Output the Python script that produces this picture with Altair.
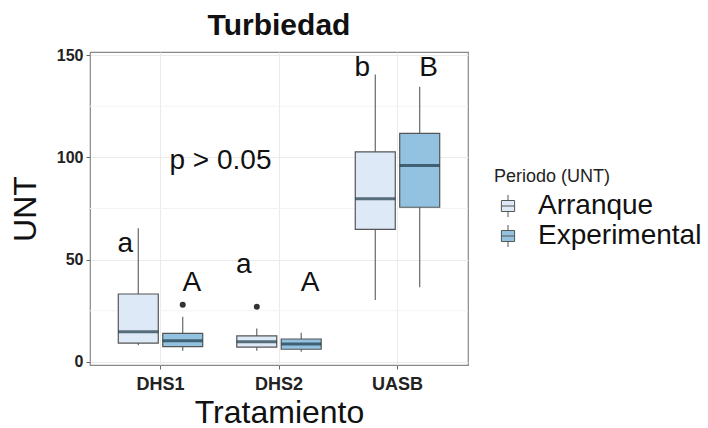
import altair as alt
import pandas as pd

categories = ["DHS1", "DHS2", "UASB"]
periods = ["Arranque", "Experimental"]

box_cat = ["DHS1", "DHS1", "DHS2", "DHS2", "UASB", "UASB"]
box_per = ["Arranque", "Experimental", "Arranque", "Experimental", "Arranque", "Experimental"]
lower = [8.2, 5.5, 5.5, 5.0, 30.3, 36.5]
q1 = [9.2, 7.5, 7.2, 6.2, 64.8, 75.6]
median = [14.8, 10.3, 9.9, 8.8, 79.8, 96.0]
q3 = [33.2, 14.0, 12.7, 11.2, 102.7, 111.7]
upper = [65.3, 22.1, 16.4, 14.3, 140.5, 134.5]

out_cat = ["DHS1", "DHS2"]
out_per = ["Experimental", "Arranque"]
out_val = [28.0, 27.0]

letters = ["a", "A", "a", "A", "b", "B"]
letter_y = [57.6, 38.6, 47.4, 38.6, 143.6, 143.6]

minor_grid = [25, 75, 125]
major_ticks = [0, 50, 100, 150]

colors = ["#dde9f6", "#92c2df"]

boxes = pd.DataFrame({
    "Tratamiento": box_cat, "Periodo": box_per,
    "lower": lower, "q1": q1, "median": median, "q3": q3, "upper": upper,
    "letter": letters, "ly": letter_y,
})
outs = pd.DataFrame({"Tratamiento": out_cat, "Periodo": out_per, "v": out_val})
minor = pd.DataFrame({"y": minor_grid})
ptext = pd.DataFrame({"Tratamiento": ["DHS1"], "y": [98.3], "t": ["p > 0.05"]})

FONT = "Liberation Sans"

xscale = alt.Scale(domain=categories, paddingInner=0.25, paddingOuter=0.22)
xoff = alt.Scale(domain=periods, paddingInner=0.1, paddingOuter=0.05)
yscale = alt.Scale(domain=[-1.5, 151.5], nice=False, zero=False)

X = alt.X("Tratamiento:N", scale=xscale, sort=categories,
          axis=alt.Axis(title="Tratamiento", labelAngle=0, grid=True,
                        gridColor="#ebebeb", tickColor="#666", tickSize=4,
                        labelFontSize=18, labelFontWeight="bold", labelColor="#222",
                        labelPadding=6, titleFontSize=32, titleFontWeight="normal",
                        titleColor="#111", titlePadding=4, domain=False))
XO = alt.XOffset("Periodo:N", scale=xoff, sort=periods)

base = alt.Chart(boxes)

minor_rules = alt.Chart(minor).mark_rule(color="#f3f3f3", strokeWidth=1).encode(
    y=alt.Y("y:Q", scale=yscale)
)

whisk = base.mark_rule(color="#666", strokeWidth=1.2).encode(
    x=X, xOffset=XO,
    y=alt.Y("lower:Q", scale=yscale,
            axis=alt.Axis(title="UNT", values=major_ticks, grid=True, gridColor="#ebebeb",
                          tickColor="#666", tickSize=4, labelFontSize=16,
                          labelFontWeight="bold", labelColor="#222", labelPadding=3,
                          titleFontSize=32, titleFontWeight="normal", titleColor="#111",
                          titlePadding=14, domain=False)),
    y2="upper:Q",
)

bars = base.mark_bar(stroke="#555", strokeWidth=1.2).encode(
    x=X, xOffset=XO,
    y=alt.Y("q1:Q", scale=yscale), y2="q3:Q",
    fill=alt.Fill("Periodo:N", scale=alt.Scale(domain=periods, range=colors),
                  legend=alt.Legend(
                      title="Periodo (UNT)", orient="none", legendX=404, legendY=116,
                      titleFontSize=18, titleFontWeight="normal", titleColor="#222",
                      titlePadding=6, labelFontSize=28, labelColor="#111",
                      labelOffset=16, labelLimit=400, symbolSize=484,
                      symbolType="M-0.6,-0.5H0.6V0.5H-0.6Z M-0.6,0H0.6 M0,-1V-0.5 M0,0.5V1",
                      symbolStrokeColor="#555", symbolStrokeWidth=1, rowPadding=2,
                      padding=0)),
)

med = base.mark_tick(color="#1d3747", thickness=3, size=40).encode(
    x=X, xOffset=XO, y=alt.Y("median:Q", scale=yscale)
)

pts = alt.Chart(outs).mark_circle(color="#333", size=36, opacity=1).encode(
    x=X, xOffset=XO, y=alt.Y("v:Q", scale=yscale)
)

lab_a = base.transform_filter(alt.datum.Periodo == "Arranque").mark_text(
    fontSize=28, font=FONT, color="#111", dx=-13, baseline="middle"
).encode(x=X, xOffset=XO, y=alt.Y("ly:Q", scale=yscale), text="letter:N")

lab_e = base.transform_filter(alt.datum.Periodo == "Experimental").mark_text(
    fontSize=28, font=FONT, color="#111", dx=9, baseline="middle"
).encode(x=X, xOffset=XO, y=alt.Y("ly:Q", scale=yscale), text="letter:N")

ptxt = alt.Chart(ptext).mark_text(
    fontSize=28, font=FONT, color="#111", dx=60, baseline="middle"
).encode(x=X, y=alt.Y("y:Q", scale=yscale), text="t:N")

chart = alt.layer(minor_rules, whisk, bars, med, pts, lab_a, lab_e, ptxt).properties(
    width=378, height=313,
    title=alt.TitleParams("Turbiedad", fontSize=30, fontWeight="bold", font=FONT,
                          color="#111", anchor="middle", offset=6),
    autosize=alt.AutoSizeParams(type="none"),
    padding={"left": 90, "top": 52, "right": 240, "bottom": 63},
).configure(font=FONT).configure_view(stroke="#888", strokeWidth=1.2).configure_axis(
    labelFont=FONT, titleFont=FONT
).configure_legend(labelFont=FONT, titleFont=FONT)

chart.save("out.html", embed_options={"renderer": "svg", "actions": False})
